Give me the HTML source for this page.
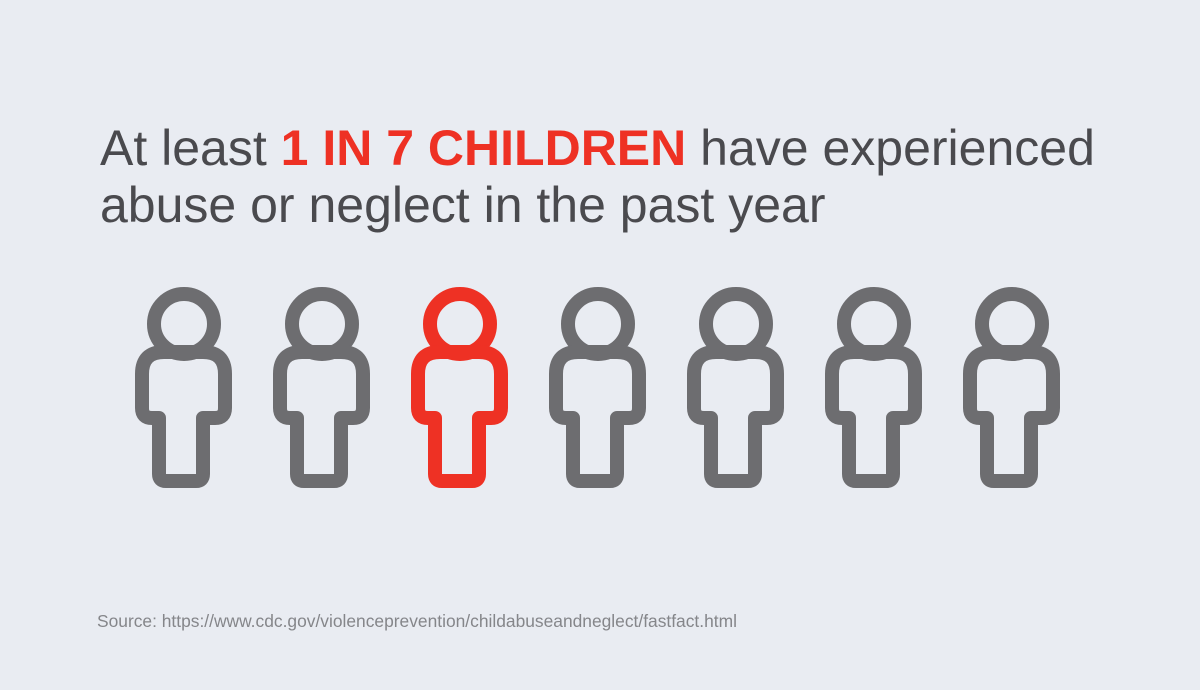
<!DOCTYPE html>
<html><head><style>
body{margin:0;width:1200px;height:690px;background:#e9ecf2;overflow:hidden;position:relative;font-family:"Liberation Sans",sans-serif}
.t{position:absolute;left:100px;color:#4a4a4e;font-size:50px;white-space:nowrap;line-height:1}
.t b{color:#ee3124;font-weight:bold}
.s{position:absolute;left:97px;top:611px;font-size:17.4px;color:#85868a}
</style></head><body>
<div class="t" style="top:123px">At least <b>1 IN 7 CHILDREN</b> have experienced</div>
<div class="t" style="top:180px">abuse or neglect in the past year</div>
<svg width="1200" height="690" style="position:absolute;left:0;top:0">
<defs><g id="p" fill="none" stroke-width="14" stroke-linejoin="round">
<circle cx="184" cy="324" r="30"/>
<path d="M159 418 L159 474 Q159 481 166 481 L196 481 Q203 481 203 474 L203 418 L215 418 Q225 418 225 408 L225 374 Q225 352 203 352 L164 352 Q142 352 142 374 L142 408 Q142 418 152 418 Z"/>
</g></defs>
<use href="#p" stroke="#6d6d70"/>
<use href="#p" x="138" stroke="#6d6d70"/>
<use href="#p" x="276" stroke="#ee3124"/>
<use href="#p" x="414" stroke="#6d6d70"/>
<use href="#p" x="552" stroke="#6d6d70"/>
<use href="#p" x="690" stroke="#6d6d70"/>
<use href="#p" x="828" stroke="#6d6d70"/>
</svg>
<div class="s">Source: https://www.cdc.gov/violenceprevention/childabuseandneglect/fastfact.html</div>
</body></html>
